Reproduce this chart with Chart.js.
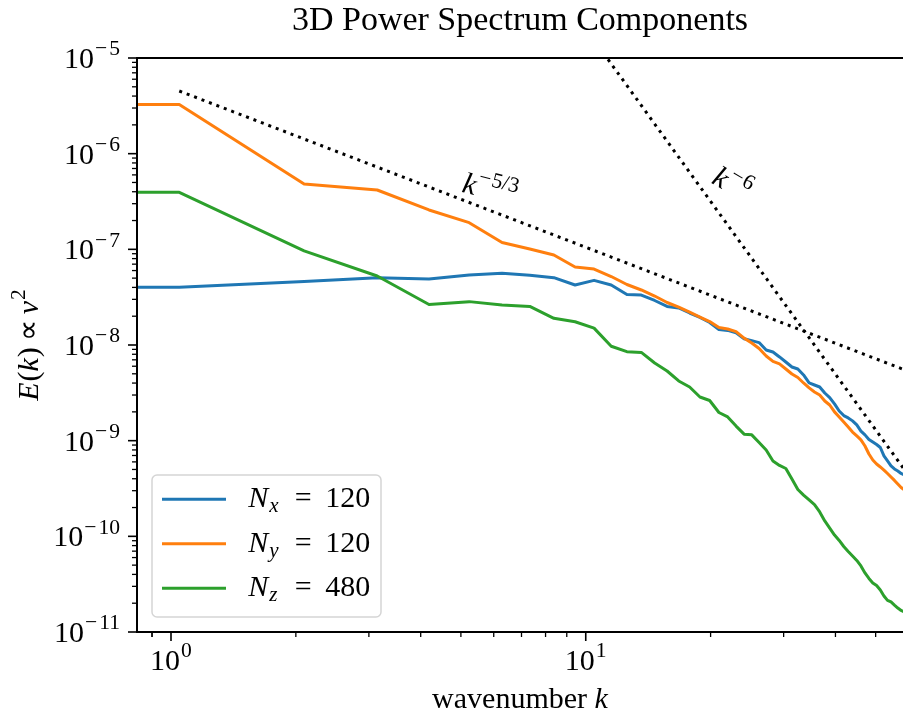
<!DOCTYPE html>
<html>
<head>
<meta charset="utf-8">
<title>3D Power Spectrum Components</title>
<script src="https://cdn.jsdelivr.net/npm/chart.js@4.4.1/dist/chart.umd.min.js"></script>
<style>
  html, body { margin: 0; padding: 0; background: #fff; }
  #wrap { width: 903px; height: 719px; }
</style>
</head>
<body>
<div id="wrap"><canvas id="spectrum" width="903" height="719"></canvas></div>
<script>
// shell wavenumbers k = 2*pi*n/6, n = 0..56
const wavenumbers = [0, 1.047, 2.094, 3.142, 4.189, 5.236, 6.283, 7.330, 8.378, 9.425,
  10.472, 11.519, 12.566, 13.614, 14.661, 15.708, 16.755, 17.802, 18.850, 19.897,
  20.944, 21.991, 23.038, 24.086, 25.133, 26.180, 27.227, 28.274, 29.322, 30.369,
  31.416, 32.463, 33.510, 34.558, 35.605, 36.652, 37.699, 38.746, 39.794, 40.841,
  41.888, 42.935, 43.982, 45.029, 46.077, 47.124, 48.171, 49.218, 50.265, 51.313,
  52.360, 53.407, 54.454, 55.501, 56.549, 57.596, 58.643];

const spectrumX = [4.01e-8, 4.01e-8, 4.61e-8, 5.06e-8, 4.90e-8, 5.40e-8, 5.62e-8, 5.36e-8, 5.06e-8, 4.24e-8,
  4.74e-8, 4.24e-8, 3.37e-8, 3.33e-8, 2.92e-8, 2.53e-8, 2.44e-8, 2.16e-8, 1.94e-8, 1.72e-8,
  1.45e-8, 1.42e-8, 1.34e-8, 1.16e-8, 1.11e-8, 1.06e-8, 8.87e-9, 8.45e-9, 7.50e-9, 6.64e-9,
  5.89e-9, 5.61e-9, 4.86e-9, 4.01e-9, 3.82e-9, 3.64e-9, 3.15e-9, 2.82e-9, 2.42e-9, 2.04e-9,
  1.83e-9, 1.73e-9, 1.61e-9, 1.46e-9, 1.26e-9, 1.15e-9, 1.03e-9, 9.68e-10, 9.12e-10, 8.49e-10,
  6.92e-10, 6.14e-10, 5.44e-10, 5.06e-10, 4.82e-10, 4.54e-10, 4.38e-10];

const spectrumY = [3.27e-6, 3.27e-6, 4.82e-7, 4.17e-7, 2.58e-7, 1.90e-7, 1.18e-7, 1.01e-7, 8.73e-8, 6.53e-8,
  6.22e-8, 5.20e-8, 4.29e-8, 3.76e-8, 3.25e-8, 2.78e-8, 2.49e-8, 2.21e-8, 1.96e-8, 1.76e-8,
  1.52e-8, 1.47e-8, 1.38e-8, 1.18e-8, 1.05e-8, 9.19e-9, 7.67e-9, 6.73e-9, 6.34e-9, 5.61e-9,
  4.98e-9, 4.57e-9, 4.01e-9, 3.56e-9, 3.23e-9, 3.00e-9, 2.60e-9, 2.36e-9, 2.00e-9, 1.77e-9,
  1.57e-9, 1.39e-9, 1.23e-9, 1.12e-9, 1.02e-9, 8.79e-10, 7.26e-10, 6.28e-10, 5.70e-10, 5.31e-10,
  4.93e-10, 4.54e-10, 4.17e-10, 3.84e-10, 3.52e-10, 3.24e-10, 3.05e-10];

const spectrumZ = [3.94e-7, 3.94e-7, 9.62e-8, 5.26e-8, 2.65e-8, 2.84e-8, 2.62e-8, 2.53e-8, 1.90e-8, 1.75e-8,
  1.50e-8, 9.70e-9, 8.51e-9, 8.36e-9, 6.49e-9, 5.35e-9, 4.21e-9, 3.64e-9, 2.86e-9, 2.63e-9,
  1.97e-9, 1.77e-9, 1.42e-9, 1.17e-9, 1.15e-9, 9.57e-10, 8.00e-10, 6.14e-10, 5.51e-10, 5.12e-10,
  3.97e-10, 3.09e-10, 2.70e-10, 2.40e-10, 2.15e-10, 1.80e-10, 1.45e-10, 1.22e-10, 1.03e-10, 9.06e-11,
  7.83e-11, 6.95e-11, 6.24e-11, 5.60e-11, 4.90e-11, 4.14e-11, 3.63e-11, 3.26e-11, 3.06e-11, 2.75e-11,
  2.38e-11, 2.14e-11, 2.06e-11, 1.91e-11, 1.78e-11, 1.68e-11, 1.62e-11];

// legend entries: symbol, subscript, resolution
const seriesLabels = [['N', 'x', '120'], ['N', 'y', '120'], ['N', 'z', '480']];
const seriesColors = ['#1f77b4', '#ff7f0e', '#2ca02c'];

// dotted power-law guides, given by their end points
const guideK53 = [1.047, 58.643];
const guideE53 = [4.52e-6, 5.51e-9];
const guideK6 = [10.472, 58.643];
const guideE6 = [1.54e-5, 4.99e-10];

const xMajorTicks = [1, 10];
const yMajorTicks = [1e-11, 1e-10, 1e-9, 1e-8, 1e-7, 1e-6, 1e-5];

const SERIF = '"Liberation Serif", "Times New Roman", serif';
const TICK_FONT = 30;

// draw (or just measure) a run of text pieces, with super/subscripts
function drawRun(ctx, pieces, x, y, size, draw) {
  let cx = x;
  for (const p of pieces) {
    const s = (p.sup || p.sub) ? size * 0.72 : size;
    const dy = p.sup ? -size * 0.42 : (p.sub ? size * 0.17 : 0);
    ctx.font = (p.it ? 'italic ' : '') + s + 'px ' + SERIF;
    if (draw) ctx.fillText(p.t, cx, y + dy);
    cx += ctx.measureText(p.t).width + (p.kern || 0);
  }
  return cx - x;
}

function powerLabel(v) {
  const e = Math.round(Math.log10(v));
  const exp = e < 0 ? [{ t: '\u2212', sup: true, kern: 2 }, { t: String(-e), sup: true }]
                    : [{ t: String(e), sup: true }];
  return [{ t: '10', kern: 1 }].concat(exp);
}

function minorTicks(lo, hi) {
  const out = [];
  for (let d = Math.floor(Math.log10(lo)); d <= Math.ceil(Math.log10(hi)); d++) {
    for (let m = 2; m <= 9; m++) {
      const v = m * Math.pow(10, d);
      if (v >= lo && v <= hi) out.push(v);
    }
  }
  return out;
}

const frame = {
  id: 'frame',
  afterDatasetsDraw(chart) {
    const { ctx, chartArea: a, scales: { x, y } } = chart;
    ctx.save();
    ctx.strokeStyle = '#000';

    // tick marks, pointing outwards
    const tick = (px, py, dx, dy, w) => {
      ctx.lineWidth = w;
      ctx.beginPath();
      ctx.moveTo(px, py);
      ctx.lineTo(px + dx, py + dy);
      ctx.stroke();
    };
    minorTicks(x.min, x.max).concat([0.9]).forEach(v => tick(x.getPixelForValue(v), a.bottom, 0, 5, 1.3));
    xMajorTicks.forEach(v => tick(x.getPixelForValue(v), a.bottom, 0, 9, 1.6));
    minorTicks(y.min, y.max).forEach(v => tick(a.left, y.getPixelForValue(v), -5, 0, 1.3));
    yMajorTicks.forEach(v => tick(a.left, y.getPixelForValue(v), -9, 0, 1.6));

    // spines
    ctx.lineWidth = 2;
    ctx.beginPath();
    ctx.moveTo(a.right, a.top);
    ctx.lineTo(a.left, a.top);
    ctx.lineTo(a.left, a.bottom);
    ctx.lineTo(a.right, a.bottom);
    ctx.stroke();

    // tick labels
    ctx.fillStyle = '#000';
    ctx.textAlign = 'left';
    ctx.textBaseline = 'alphabetic';
    xMajorTicks.forEach(v => {
      const p = powerLabel(v);
      const w = drawRun(ctx, p, 0, 0, TICK_FONT, false);
      drawRun(ctx, p, x.getPixelForValue(v) - w / 2, a.bottom + 38, TICK_FONT, true);
    });
    yMajorTicks.forEach(v => {
      const p = powerLabel(v);
      const w = drawRun(ctx, p, 0, 0, TICK_FONT, false);
      drawRun(ctx, p, a.left - 17 - w, y.getPixelForValue(v) + 10, TICK_FONT, true);
    });
    ctx.restore();
  },
  afterDraw(chart) {
    const { ctx, chartArea: a, scales: { x, y } } = chart;
    const cx = (a.left + a.right) / 2;
    ctx.save();
    ctx.fillStyle = '#000';
    ctx.textBaseline = 'alphabetic';

    // title and axis labels
    ctx.textAlign = 'center';
    ctx.font = '34px ' + SERIF;
    ctx.fillText('3D Power Spectrum Components', cx, 30);
    ctx.textAlign = 'left';
    const xl = [{ t: 'wavenumber ' }, { t: 'k', it: true }];
    let w = drawRun(ctx, xl, 0, 0, 30, false);
    drawRun(ctx, xl, cx - w / 2, 708, 30, true);

    const yl = [{ t: 'E', it: true, kern: 1 }, { t: '(' }, { t: 'k', it: true, kern: 1 }, { t: ')', kern: 6 },
      { t: '\u221D', kern: 6 }, { t: 'v', it: true, kern: 1 }, { t: '2', sup: true }];
    ctx.save();
    ctx.translate(38, (a.top + a.bottom) / 2);
    ctx.rotate(-Math.PI / 2);
    w = drawRun(ctx, yl, 0, 0, 30, false);
    drawRun(ctx, yl, -w / 2, 0, 30, true);
    ctx.restore();

    // guide annotations
    const note = (k, E, deg, pieces) => {
      ctx.save();
      ctx.translate(x.getPixelForValue(k), y.getPixelForValue(E));
      ctx.rotate(deg * Math.PI / 180);
      drawRun(ctx, pieces, 0, 0, 30, true);
      ctx.restore();
    };
    note(5, 4e-7, 14, [{ t: 'k', it: true, kern: 1 }, { t: '\u2212', sup: true, kern: 1 }, { t: '5/3', sup: true }]);
    note(20, 5e-7, 30, [{ t: 'k', it: true, kern: 1 }, { t: '\u2212', sup: true, kern: 1 }, { t: '6', sup: true }]);

    // legend
    const lx = 152, ly = 475, lw = 229, lh = 142;
    ctx.beginPath();
    ctx.roundRect(lx, ly, lw, lh, 5);
    ctx.fillStyle = 'rgba(255,255,255,0.8)';
    ctx.fill();
    ctx.strokeStyle = '#d5d5d5';
    ctx.lineWidth = 1.5;
    ctx.stroke();
    chart.data.datasets.slice(0, 3).forEach((ds, i) => {
      const ry = 499.3 + 44.5 * i;
      ctx.strokeStyle = ds.borderColor;
      ctx.lineWidth = 3;
      ctx.beginPath();
      ctx.moveTo(162, ry);
      ctx.lineTo(226, ry);
      ctx.stroke();
      const [sym, sub, num] = seriesLabels[i];
      const tx = 248.3, ty = ry + 7.7;
      ctx.fillStyle = '#000';
      ctx.textAlign = 'left';
      ctx.font = 'italic 30px ' + SERIF;
      ctx.fillText(sym, tx, ty);
      ctx.font = 'italic 21px ' + SERIF;
      ctx.fillText(sub, tx + 21, ty + 5);
      ctx.font = '30px ' + SERIF;
      ctx.textAlign = 'center';
      ctx.fillText('=', tx + 55, ty);
      ctx.textAlign = 'left';
      ctx.fillText(num, tx + 77, ty);
    });
    ctx.restore();
  }
};

const points = ys => wavenumbers.map((k, i) => ({ x: k, y: ys[i] }));
const guide = (ks, es) => ks.map((k, i) => ({ x: k, y: es[i] }));

new Chart(document.getElementById('spectrum'), {
  type: 'line',
  data: {
    datasets: [
      { label: 'N_x = 120', data: points(spectrumX), borderColor: seriesColors[0], order: 5 },
      { label: 'N_y = 120', data: points(spectrumY), borderColor: seriesColors[1], order: 4 },
      { label: 'N_z = 480', data: points(spectrumZ), borderColor: seriesColors[2], order: 3 },
      { label: 'k^-5/3', data: guide(guideK53, guideE53), borderColor: '#000', borderDash: [3, 4.95], order: 2 },
      { label: 'k^-6', data: guide(guideK6, guideE6), borderColor: '#000', borderDash: [3, 4.95], order: 1 }
    ]
  },
  options: {
    responsive: false,
    animation: false,
    devicePixelRatio: 1,
    layout: { padding: { left: 137, top: 58, right: 0, bottom: 87 } },
    datasets: { line: { clip: 0 } },
    elements: {
      point: { radius: 0 },
      line: { tension: 0, borderWidth: 3, borderJoinStyle: 'round', fill: false }
    },
    plugins: { legend: { display: false }, tooltip: { enabled: false } },
    scales: {
      x: { type: 'logarithmic', min: 0.828, max: 58.2, display: false },
      y: { type: 'logarithmic', min: 1e-11, max: 1e-5, display: false }
    }
  },
  plugins: [frame]
});
</script>
</body>
</html>
